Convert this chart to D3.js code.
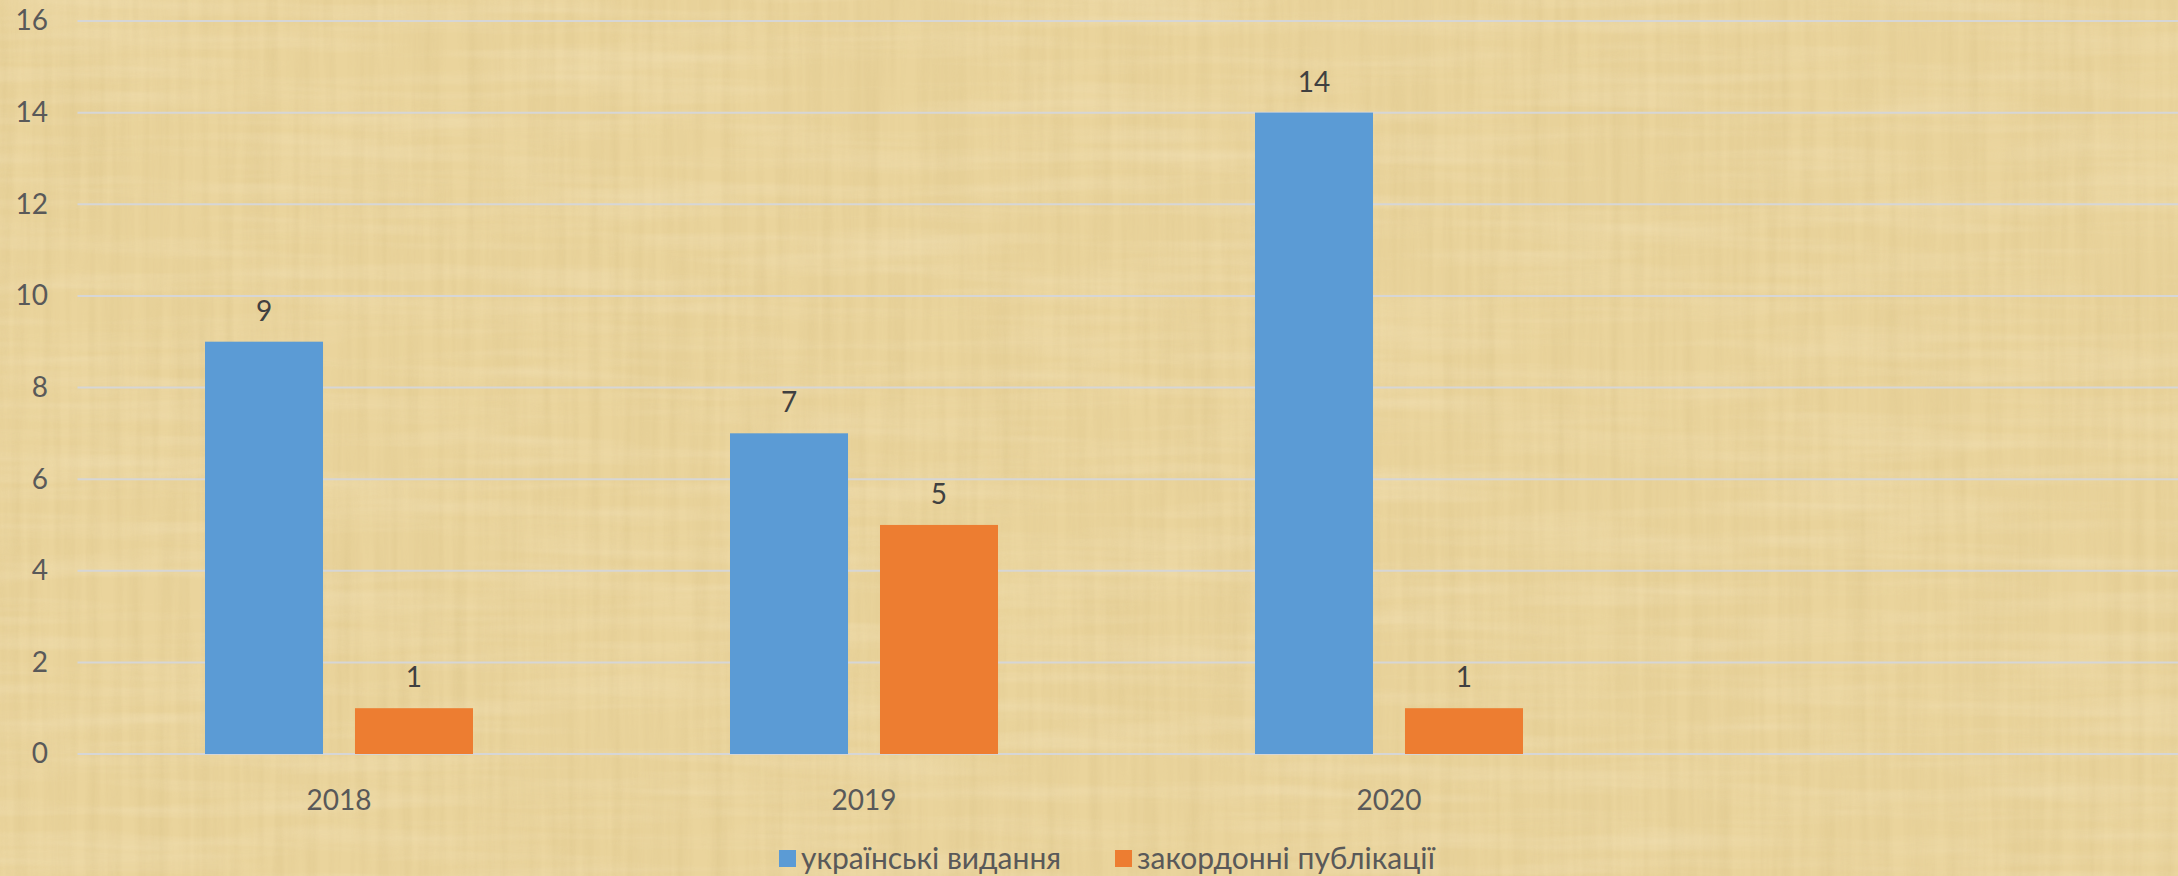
<!DOCTYPE html>
<html>
<head>
<meta charset="utf-8">
<script src="https://cdn.jsdelivr.net/npm/d3@7"></script>
<style>
  html, body { margin: 0; padding: 0; background: #E9D39B; }
  svg { display: block; }
  text { font-family: Lato, "Open Sans", sans-serif; }
</style>
</head>
<body>
<svg id="chart" width="2178" height="876"></svg>
<script>
const categories = ["2018", "2019", "2020", ""];
const seriesNames = ["українські видання", "закордонні публікації"];
const seriesColors = ["#5B9BD5", "#ED7D31"];
const ukrainian = [9, 7, 14, null];
const foreign = [1, 5, 1, null];
const yTicks = [0, 2, 4, 6, 8, 10, 12, 14, 16];

(function () {
const W = 2178, H = 876;
const svg = d3.select("#chart");

// background papyrus-like texture
const defs = svg.append("defs");
const f = defs.append("filter").attr("id", "paper").attr("x", 0).attr("y", 0).attr("width", "100%").attr("height", "100%");
f.append("feTurbulence").attr("type", "fractalNoise").attr("baseFrequency", "0.09 0.004").attr("numOctaves", 3).attr("seed", 4).attr("result", "n1");
f.append("feColorMatrix").attr("in", "n1").attr("type", "matrix")
  .attr("values", "0 0 0 0 0.62  0 0 0 0 0.48  0 0 0 0 0.2  0 0 0 -0.9 0.62");
const f2 = defs.append("filter").attr("id", "paper2").attr("x", 0).attr("y", 0).attr("width", "100%").attr("height", "100%");
f2.append("feTurbulence").attr("type", "fractalNoise").attr("baseFrequency", "0.004 0.06").attr("numOctaves", 3).attr("seed", 9).attr("result", "n2");
f2.append("feColorMatrix").attr("in", "n2").attr("type", "matrix")
  .attr("values", "0 0 0 0 0.98  0 0 0 0 0.9  0 0 0 0 0.72  0 0 0 -1.2 0.72");

svg.append("rect").attr("width", W).attr("height", H).attr("fill", "#EAD49C");
svg.append("rect").attr("width", W).attr("height", H).attr("fill", "#EAD49C").attr("filter", "url(#paper)").attr("opacity", 0.45);
svg.append("rect").attr("width", W).attr("height", H).attr("fill", "#EAD49C").attr("filter", "url(#paper2)").attr("opacity", 0.35);

const pLeft = 76.5, pRight = 2176.5, pTop = 21, pBottom = 754;

const x0 = d3.scaleBand().domain(categories).range([pLeft, pRight]).paddingInner(0).paddingOuter(0);
const x1 = d3.scaleBand().domain(seriesNames).range([0, x0.bandwidth()]).paddingInner(0.2133).paddingOuter(0.8567);
const y = d3.scaleLinear().domain([0, 16]).range([pBottom, pTop]);

// gridlines
svg.append("g").selectAll("line").data(yTicks).join("line")
  .attr("x1", pLeft + 1).attr("x2", W)
  .attr("y1", d => y(d)).attr("y2", d => y(d))
  .attr("stroke", "#D6D6D6").attr("stroke-width", 2);

// y axis labels
const yAxis = d3.axisLeft(y).tickValues(yTicks).tickSize(0).tickPadding(0);
const gy = svg.append("g").attr("transform", "translate(48,0)").call(yAxis);
gy.select(".domain").remove();
gy.selectAll("text").attr("font-size", 28).attr("fill", "#595959").attr("font-family", "Lato, 'Open Sans', sans-serif");

// x axis labels
const xAxis = d3.axisBottom(x0).tickSize(0).tickPadding(0);
const gx = svg.append("g").attr("transform", `translate(0,${pBottom})`).call(xAxis);
gx.select(".domain").remove();
gx.selectAll("text").attr("font-size", 28).attr("fill", "#595959").attr("dy", null).attr("y", 56)
  .attr("font-family", "Lato, 'Open Sans', sans-serif");

// bars
const seriesData = [ukrainian, foreign];
const groups = svg.append("g").selectAll("g").data(seriesNames).join("g")
  .attr("fill", (d, i) => seriesColors[i]);

groups.each(function(name, si) {
  const vals = seriesData[si];
  const data = categories.map((c, ci) => ({ c, v: vals[ci] })).filter(d => d.v != null);
  d3.select(this).selectAll("rect").data(data).join("rect")
    .attr("x", d => x0(d.c) + x1(name))
    .attr("width", x1.bandwidth())
    .attr("y", d => y(d.v))
    .attr("height", d => y(0) - y(d.v));
  svg.append("g").selectAll("text").data(data).join("text")
    .attr("x", d => x0(d.c) + x1(name) + x1.bandwidth() / 2)
    .attr("y", d => y(d.v) - 21)
    .attr("text-anchor", "middle")
    .attr("font-size", 28)
    .attr("fill", "#404040")
    .text(d => d.v);
});

// legend
const legend = svg.append("g");
const legendX = [779, 1115];
seriesNames.forEach((name, i) => {
  legend.append("rect").attr("x", legendX[i]).attr("y", 850).attr("width", 17).attr("height", 17)
    .attr("fill", seriesColors[i]);
  legend.append("text").attr("x", legendX[i] + 22).attr("y", 869)
    .attr("font-size", 30).attr("fill", "#595959").text(name);
});
})();
</script>
</body>
</html>
